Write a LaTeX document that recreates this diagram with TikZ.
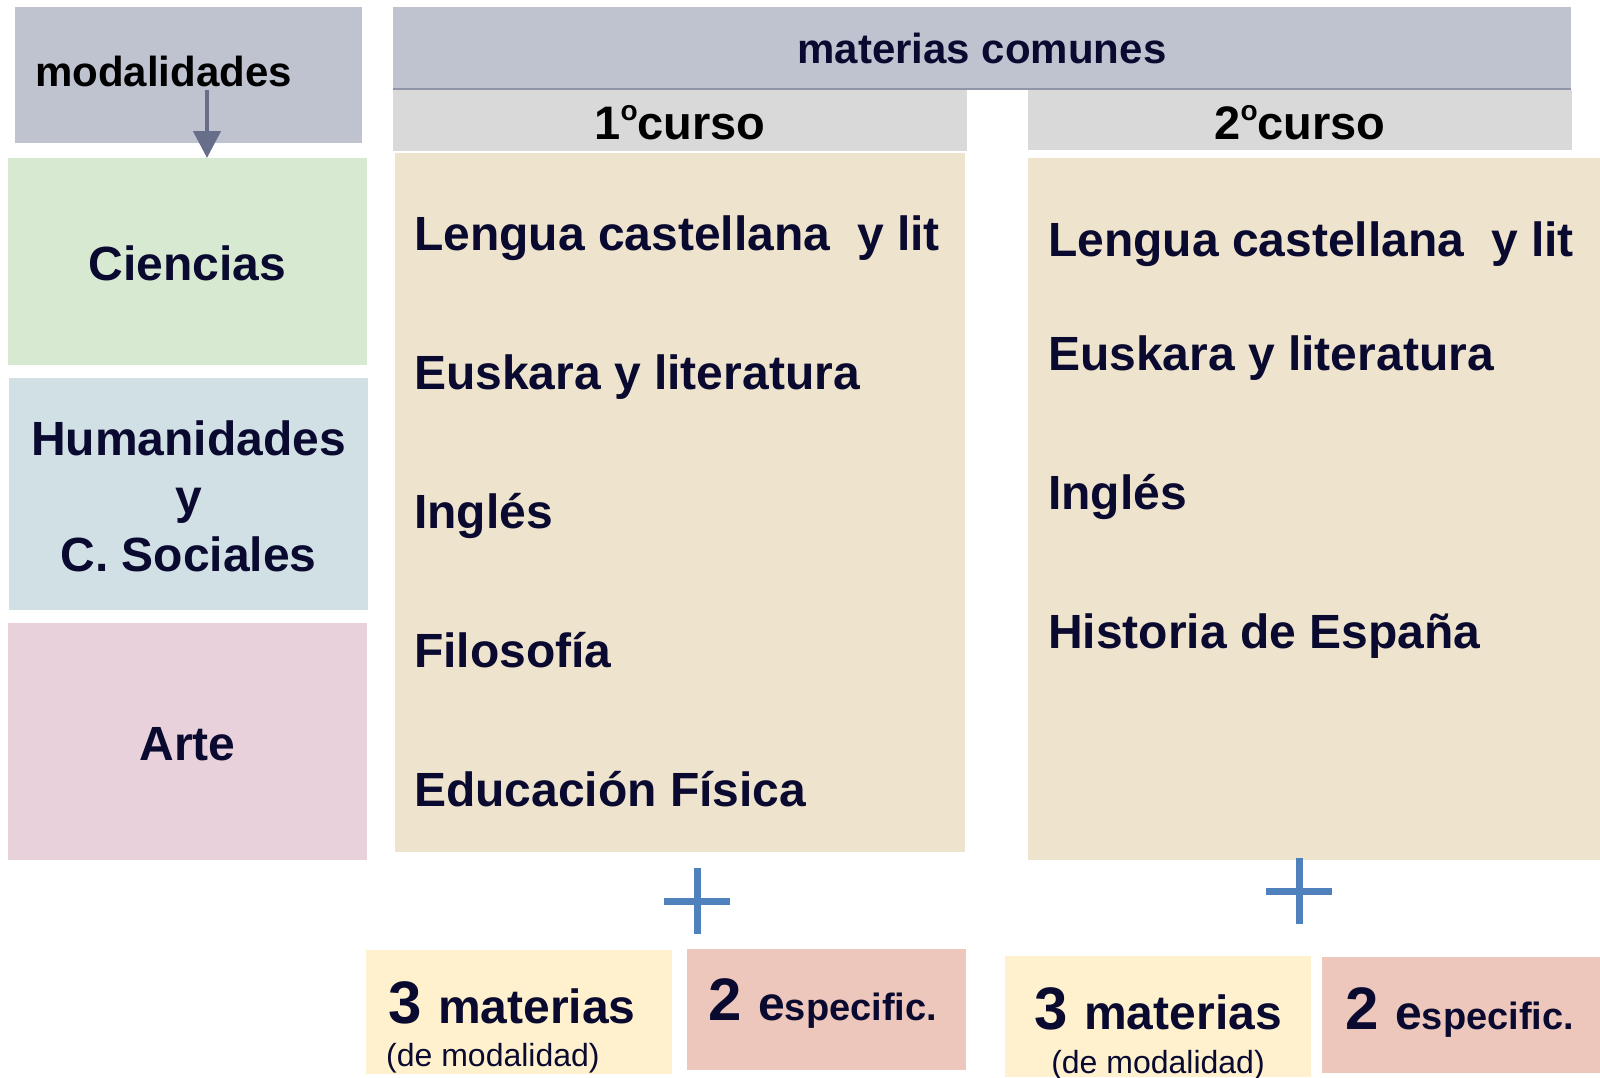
\documentclass[tikz,border=0pt]{standalone}
\usepackage{fontspec}
\setmainfont{Liberation Sans}
\usetikzlibrary{arrows.meta}
\definecolor{navy}{HTML}{0A0A30}
\definecolor{hdr}{HTML}{BFC3D0}
\definecolor{hdrline}{HTML}{8E96A8}
\definecolor{cursobar}{HTML}{D9D9D9}
\definecolor{beige}{HTML}{EEE3CC}
\definecolor{cgreen}{HTML}{D8E9D2}
\definecolor{cblue}{HTML}{D1E0E4}
\definecolor{cpink}{HTML}{E9D1DC}
\definecolor{cyellow}{HTML}{FFF1CE}
\definecolor{csalmon}{HTML}{EDC7BC}
\definecolor{plusblue}{HTML}{4F81BD}
\definecolor{arrgray}{HTML}{666E8A}
\newcommand{\ordo}{{\fontsize{28}{28}\selectfont\raisebox{19pt}{o}}}
\begin{document}
\begin{tikzpicture}[x=1pt,y=-1pt,
  box/.style={draw=none,inner sep=0pt,outer sep=0pt,anchor=north west},
  item/.style={anchor=base west,inner sep=0pt,text=navy,font=\fontsize{48}{56}\selectfont\bfseries},
  ctext/.style={anchor=center,inner sep=0pt,text=navy,align=center,font=\fontsize{48}{58}\selectfont\bfseries},
  hdrtext/.style={anchor=center,inner sep=0pt,font=\fontsize{47}{56}\selectfont\bfseries},
  big/.style={inner sep=0pt,text=navy,font=\fontsize{48}{56}\selectfont\bfseries},
  small/.style={inner sep=0pt,text=navy,font=\fontsize{32}{38}\selectfont},
  plusline/.style={draw=plusblue,line width=7pt},
  arr/.style={draw=arrgray,line width=4.5pt,-{Triangle[length=27pt,width=27pt]}}
]
\useasboundingbox (0,0) rectangle (1600,1077);
% boxes
\node[box,fill=hdr,minimum width=347pt,minimum height=136pt] (modal) at (15,7) {};
\node[box,fill=hdr,minimum width=1178pt,minimum height=82pt] (header) at (393,7) {};
\draw[hdrline,line width=1.5pt] (header.south west) -- (header.south east);
\node[box,fill=cursobar,minimum width=574pt,minimum height=61pt] (c1bar) at (393,89.7) {};
\node[box,fill=cursobar,minimum width=544pt,minimum height=60pt] (c2bar) at (1028,90) {};
\node[box,fill=beige,minimum width=570pt,minimum height=699pt] (beige1) at (395,153) {};
\node[box,fill=beige,minimum width=572pt,minimum height=702pt] (beige2) at (1028,158) {};
\node[box,fill=cgreen,minimum width=359pt,minimum height=207pt] (cien) at (8,158) {};
\node[box,fill=cblue,minimum width=359pt,minimum height=232pt] (hum) at (9,378) {};
\node[box,fill=cpink,minimum width=359pt,minimum height=237pt] (arte) at (8,623) {};
\node[box,fill=cyellow,minimum width=306pt,minimum height=124pt] (b1a) at (366,950) {};
\node[box,fill=csalmon,minimum width=279pt,minimum height=121pt] (b1b) at (687,949) {};
\node[box,fill=cyellow,minimum width=306pt,minimum height=121pt] (b2a) at (1005,956) {};
\node[box,fill=csalmon,minimum width=278pt,minimum height=116pt] (b2b) at (1322,957) {};
% header texts
\node[anchor=base west,inner sep=0pt,font=\fontsize{42}{50}\selectfont\bfseries] (modaltxt) at (35,86) {modalidades};
\node[hdrtext,text=navy,font=\fontsize{42}{50}\selectfont\bfseries] (hdrtxt) at (header.center) {materias comunes};
\node[hdrtext,anchor=base] (c1txt) at ([yshift=11pt]c1bar.south) {1\ordo curso};
\node[hdrtext,anchor=base] (c2txt) at ([yshift=10.5pt]c2bar.south) {2\ordo curso};
% arrow
\coordinate (arrS) at (207,90);
\draw[arr] (arrS) -- (arrS |- cien.north);
% left column
\node[ctext] (cientxt) at ([yshift=-2pt]cien.center) {Ciencias};
\node[ctext] (humtxt) at ([yshift=-2pt]hum.center) {Humanidades\\y\\C. Sociales};
\node[ctext] (artetxt) at ([yshift=-3pt]arte.center) {Arte};
% first course
\node[item] (l1a) at (414,250) {Lengua castellana \ y lit};
\node[item] (l1b) at (414,389) {Euskara y literatura};
\node[item] (l1c) at (414,528) {Inglés};
\node[item] (l1d) at (414,667) {Filosofía};
\node[item] (l1e) at (414,806) {Educación Física};
% second course
\node[item] (l2a) at (1048,256) {Lengua castellana \ y lit};
\node[item] (l2b) at (1048,370) {Euskara y literatura};
\node[item] (l2c) at (1048,509) {Inglés};
\node[item] (l2d) at (1048,648) {Historia de España};
% plus signs
\coordinate (p1) at (697,901);
\coordinate (p2) at (1299,891);
\draw[plusline] ([xshift=-33pt]p1) -- ([xshift=33pt]p1);
\draw[plusline] ([yshift=-33pt]p1) -- ([yshift=33pt]p1);
\draw[plusline] ([xshift=-33pt]p2) -- ([xshift=33pt]p2);
\draw[plusline] ([yshift=-33pt]p2) -- ([yshift=33pt]p2);
% bottom boxes
\node[big,anchor=base west] (m1) at (388,1023) {{\fontsize{60}{60}\selectfont 3 }materias};
\node[small,anchor=base west] (d1) at (386,1066) {(de modalidad)};
\node[big,anchor=base west] (e1) at (708,1020) {{\fontsize{60}{60}\selectfont 2 }e{\fontsize{38}{40}\selectfont specific.}};
\node[big,anchor=base] (m2) at (1158,1029) {{\fontsize{60}{60}\selectfont 3 }materias};
\node[small,anchor=base] (d2) at (1158,1073) {(de modalidad)};
\node[big,anchor=base west] (e2) at (1345,1029) {{\fontsize{60}{60}\selectfont 2 }e{\fontsize{38}{40}\selectfont specific.}};
\end{tikzpicture}
\end{document}
